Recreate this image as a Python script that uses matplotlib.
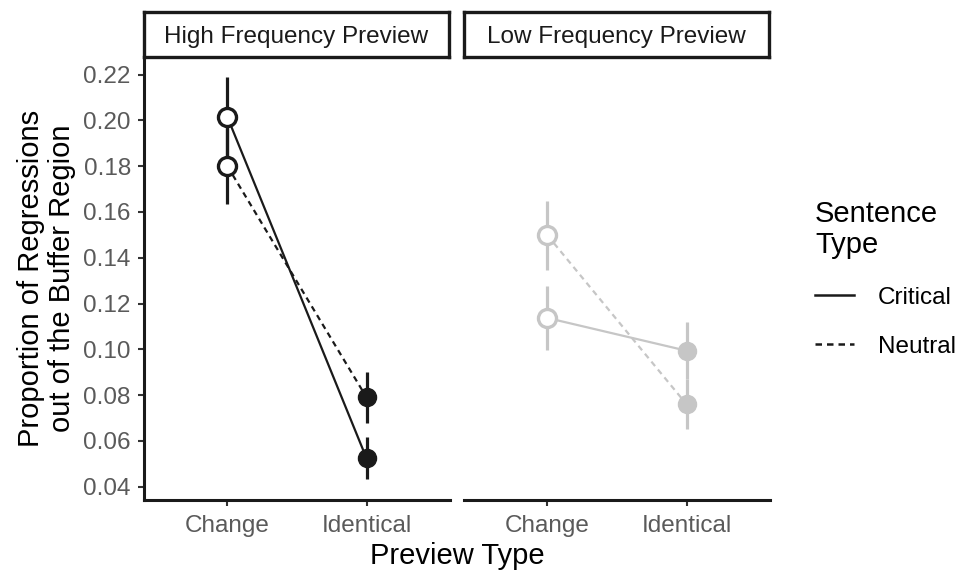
import matplotlib
matplotlib.use("Agg")
import matplotlib.pyplot as plt
from matplotlib.lines import Line2D

plt.rcParams['font.family'] = ['Liberation Sans', 'DejaVu Sans']

# ---- data ----
preview_types = ["Change", "Identical"]
panels = ["High Frequency Preview", "Low Frequency Preview"]
sentence_types = ["Critical", "Neutral"]

high_critical_mean = [0.2014, 0.0524]
high_critical_lo = [0.1840, 0.0432]
high_critical_hi = [0.2190, 0.0619]
high_neutral_mean = [0.1800, 0.0790]
high_neutral_lo = [0.1635, 0.0677]
high_neutral_hi = [0.1965, 0.0903]

low_critical_mean = [0.1137, 0.0994]
low_critical_lo = [0.0998, 0.0870]
low_critical_hi = [0.1275, 0.1119]
low_neutral_mean = [0.1498, 0.0760]
low_neutral_lo = [0.1348, 0.0651]
low_neutral_hi = [0.1650, 0.0870]

yticks = [0.04, 0.06, 0.08, 0.10, 0.12, 0.14, 0.16, 0.18, 0.20, 0.22]

DASH = (0, (2.6, 2.0))
panel_data = [
    dict(color="#1a1a1a",
         series=[(high_critical_mean, high_critical_lo, high_critical_hi, "-"),
                 (high_neutral_mean, high_neutral_lo, high_neutral_hi, DASH)]),
    dict(color="#c6c6c6",
         series=[(low_critical_mean, low_critical_lo, low_critical_hi, "-"),
                 (low_neutral_mean, low_neutral_lo, low_neutral_hi, DASH)]),
]

W, H = 958, 571
fig = plt.figure(figsize=(W / 100, H / 100), dpi=100)

def fx(px):
    return px / W

def fy(py):
    return 1 - py / H

ax_left_px = [144, 464]
ax_w_px = 306
ax_top_px, ax_bot_px = 57, 500
tick_col = "#5a5a5a"
TICK_FS = 17.5
TITLE_FS = 21

for i, (title, pdict) in enumerate(zip(panels, panel_data)):
    ax = fig.add_axes([fx(ax_left_px[i]), fy(ax_bot_px), fx(ax_w_px), (ax_bot_px - ax_top_px) / H])
    col = pdict["color"]
    x = [1, 2]
    for mean, lo, hi, ls in pdict["series"]:
        ax.plot(x, mean, color=col, lw=1.6, ls=ls, zorder=2)
        for xi, m, l, h in zip(x, mean, lo, hi):
            ax.plot([xi, xi], [l, h], color=col, lw=2.3, solid_capstyle="butt", zorder=3)
        ax.plot([x[0]], [mean[0]], marker="o", ms=13, mfc="white", mec=col, mew=2.4, ls="none", zorder=4)
        ax.plot([x[1]], [mean[1]], marker="o", ms=13, mfc=col, mec=col, mew=1, ls="none", zorder=4)
    ax.set_xlim(0.4, 2.6)
    ax.set_ylim(0.0342, 0.2277)
    ax.set_xticks(x)
    ax.set_xticklabels(preview_types, fontsize=TICK_FS, color=tick_col)
    ax.set_yticks(yticks)
    ax.set_yticklabels([f"{t:.2f}" for t in yticks], fontsize=TICK_FS, color=tick_col)
    for s in ["top", "right"]:
        ax.spines[s].set_visible(False)
    ax.spines["bottom"].set_linewidth(2.2)
    ax.spines["bottom"].set_color("#1a1a1a")
    ax.tick_params(axis="x", length=4.5, width=1.5, color="#333333", pad=6)
    ax.tick_params(axis="y", length=4.5, width=1.5, color="#333333", pad=5)
    if i == 0:
        ax.spines["left"].set_linewidth(2.2)
        ax.spines["left"].set_color("#1a1a1a")
        ax.set_ylabel("Proportion of Regressions\nout of the Buffer Region", fontsize=TITLE_FS,
                      labelpad=5, linespacing=1.15)
    else:
        ax.spines["left"].set_visible(False)
        ax.tick_params(axis="y", left=False, labelleft=False)
    ax.patch.set_alpha(0)

    # strip
    sax = fig.add_axes([fx(ax_left_px[i]), fy(ax_top_px), fx(ax_w_px - 1), (ax_top_px - 12) / H])
    sax.set_xticks([])
    sax.set_yticks([])
    for s in sax.spines.values():
        s.set_linewidth(2.4)
        s.set_color("#1a1a1a")
    sax.text(0.5, 0.45, title, ha="center", va="center", fontsize=TICK_FS, color="#1a1a1a",
             transform=sax.transAxes)

fig.text(fx(457), fy(556), "Preview Type", ha="center", va="center", fontsize=TITLE_FS)

handles = [Line2D([], [], color="#1a1a1a", lw=1.8, ls="-"),
           Line2D([], [], color="#1a1a1a", lw=1.8, ls=DASH)]
leg = fig.legend(handles, sentence_types, title="Sentence\nType", loc="upper left",
                 bbox_to_anchor=(fx(815), fy(200)), frameon=False, fontsize=TICK_FS,
                 title_fontsize=TITLE_FS, handlelength=1.6, handletextpad=1.0,
                 labelspacing=1.12, alignment="left", borderaxespad=0, borderpad=0)
leg.get_title().set_linespacing(1.15)

fig.savefig("out.png", dpi=100)
